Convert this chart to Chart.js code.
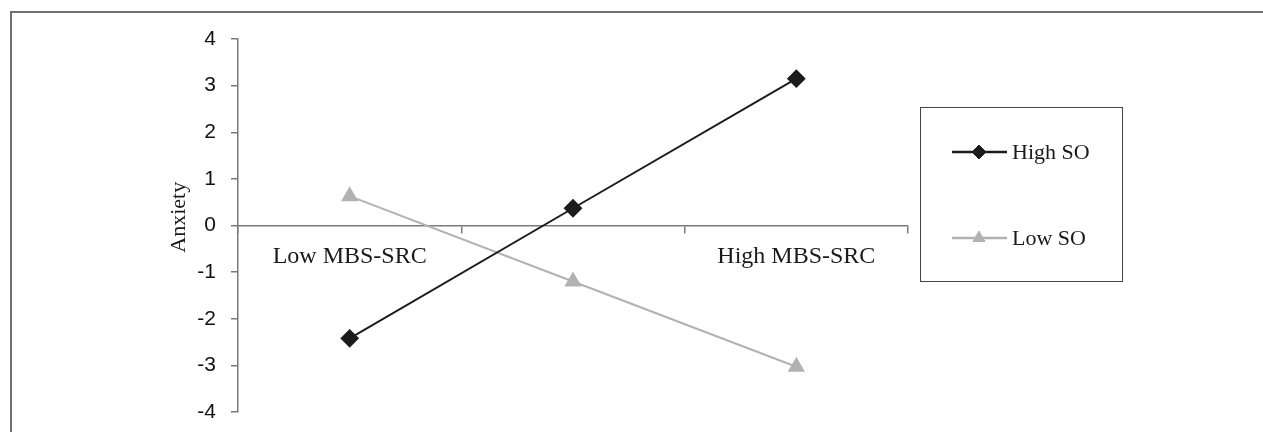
<!DOCTYPE html>
<html>
<head>
<meta charset="utf-8">
<script src="https://cdn.jsdelivr.net/npm/chart.js@4"></script>
<style>
  html,body{margin:0;padding:0;background:#fff;}
  #wrap{width:1263px;height:432px;position:relative;}
</style>
</head>
<body>
<div id="wrap"><canvas id="chart"></canvas></div>
<script>
// data
const categories = ['Low MBS-SRC', '', 'High MBS-SRC'];
const highSO = [-2.42, 0.37, 3.15];
const lowSO  = [0.63, -1.2, -3.03];
const yTicks = [-4, -3, -2, -1, 0, 1, 2, 3, 4];
const seriesNames = ['High SO', 'Low SO'];

// outer frame (top + left edges only)
const framePlugin = {
  id:'frame',
  beforeDraw(chart){
    const c=chart.ctx;
    c.save();
    c.strokeStyle='#6e6e6e'; c.lineWidth=2;
    c.beginPath();
    c.moveTo(11, chart.height); c.lineTo(11, 12); c.lineTo(chart.width, 12);
    c.stroke();
    c.restore();
  }
};

// boxed legend on the right
const boxLegend = {
  id:'boxLegend',
  afterDraw(chart){
    const c=chart.ctx;
    c.save();
    c.strokeStyle='#444'; c.lineWidth=1;
    c.strokeRect(920.5, 107.5, 202, 174);
    const rows=[152, 238];
    chart.data.datasets.forEach((ds,i)=>{
      const y=rows[i];
      c.strokeStyle=ds.borderColor; c.lineWidth=ds.borderWidth+0.5;
      c.beginPath(); c.moveTo(952,y); c.lineTo(1007,y); c.stroke();
      c.fillStyle=ds.pointBackgroundColor; c.lineWidth=1;
      Chart.helpers.drawPoint(c,{pointStyle:ds.pointStyle,radius:ds.pointRadius-1,rotation:0,borderWidth:1},979,y);
      c.fillStyle='#1a1a1a';
      c.font='22px "Liberation Serif", "Times New Roman", serif';
      c.textBaseline='middle'; c.textAlign='left';
      c.fillText(ds.label, 1012, y+1);
    });
    c.restore();
  }
};

new Chart(document.getElementById('chart'),{
  type:'line',
  data:{
    labels:categories,
    datasets:[
      {label:seriesNames[0], data:highSO, borderColor:'#1c1c1c', backgroundColor:'#1c1c1c',
       pointBackgroundColor:'#1c1c1c', pointBorderColor:'#1c1c1c', borderWidth:2,
       pointStyle:'rectRot', pointRadius:8, pointHoverRadius:8, tension:0},
      {label:seriesNames[1], data:lowSO, borderColor:'#b2b2b2', backgroundColor:'#b2b2b2',
       pointBackgroundColor:'#b2b2b2', pointBorderColor:'#b2b2b2', borderWidth:2,
       pointStyle:'triangle', pointRadius:8, pointHoverRadius:8, tension:0}
    ]
  },
  options:{
    responsive:true, maintainAspectRatio:false, animation:false,
    layout:{padding:{left:150, right:355, top:39, bottom:20}},
    plugins:{legend:{display:false}, tooltip:{enabled:false}},
    scales:{
      x:{
        type:'category', position:{y:0}, offset:true,
        afterFit(s){ s.paddingTop=0; s.paddingBottom=0; s.paddingLeft=0; s.paddingRight=0; },
        grid:{display:true, drawOnChartArea:false, offset:true, tickLength:7, color:'#7a7a7a', lineWidth:1.5},
        border:{display:true, color:'#7a7a7a', width:1.5},
        ticks:{color:'#1a1a1a', padding:10, maxRotation:0, autoSkip:false,
          font:{family:'"Liberation Serif", "Times New Roman", serif', size:24}}
      },
      y:{
        min:-4, max:4,
        afterFit(s){ s.width=88; s.paddingTop=0; s.paddingBottom=0; },
        afterBuildTicks(s){ s.ticks=yTicks.map(v=>({value:v})); },
        grid:{display:true, drawOnChartArea:false, tickLength:7, color:'#7a7a7a', lineWidth:1.5},
        border:{display:true, color:'#7a7a7a', width:1.5},
        ticks:{color:'#111', padding:15, font:{family:'"Liberation Sans", Arial, sans-serif', size:21}},
        title:{display:true, text:'   Anxiety', color:'#1a1a1a', padding:{top:16,bottom:0},
          font:{family:'"Liberation Serif", "Times New Roman", serif', size:22}}
      }
    }
  },
  plugins:[framePlugin, boxLegend]
});
</script>
</body>
</html>
